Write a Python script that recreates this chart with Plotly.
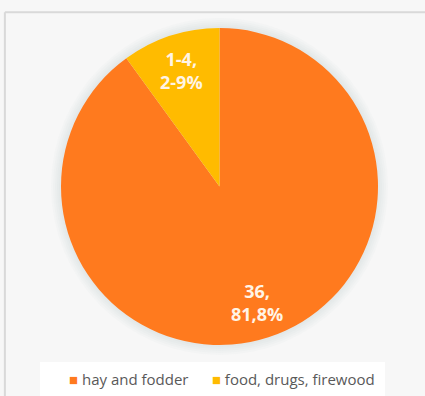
import math
import plotly.graph_objects as go

categories = ["hay and fodder", "food, drugs, firewood"]
values = [36, 4]
label_texts = ["36,<br>81,8%", "1-4,<br>2-9%"]
colors = ["#FF7A1E", "#FFBB00"]

fig = go.Figure(go.Pie(
    labels=categories,
    values=values,
    textinfo="none",
    marker=dict(colors=colors, line=dict(width=0)),
    sort=False,
    direction="clockwise",
    rotation=0,
    hole=0,
    domain=dict(x=[0, 1], y=[0, 1]),
))

# slice labels placed at each slice's mid-angle, derived from the values
total = sum(values)
annotations = []
cum = 0.0
for v, t in zip(values, label_texts):
    mid = (cum + v / 2) / total * 2 * math.pi
    cum += v
    r = 0.385
    annotations.append(dict(
        x=0.5 + r * math.sin(mid), y=0.5 + r * math.cos(mid),
        xref="paper", yref="paper", xanchor="center", yanchor="middle",
        text=t, showarrow=False,
        font=dict(family="Open Sans", size=18, color="#FFF4E6", weight="bold"),
        align="center",
    ))

# legend line built from the category names and colours
legend_text = "      ".join(
    f"<span style='color:{c}'>■</span> {name}" for name, c in zip(categories, colors)
)
annotations.append(dict(
    x=0.508, y=-0.107, xref="paper", yref="paper", xanchor="center", yanchor="middle",
    text=legend_text, showarrow=False,
    font=dict(family="Open Sans", size=15, color="#595959"),
))

# soft glow around the pie (decoration)
shapes = []
for k in (10, 8, 6, 4, 2):
    rr = 0.5 + k / 317
    shapes.append(dict(type="circle", xref="paper", yref="paper", layer="below",
                       x0=0.5 - rr, x1=0.5 + rr, y0=0.5 - rr, y1=0.5 + rr,
                       fillcolor="rgba(170,180,195,0.045)", line=dict(width=0)))
shapes += [
    dict(type="rect", xref="paper", yref="paper", layer="below",
         x0=-0.066, x1=1.022, y0=-0.054, y1=-0.2,
         fillcolor="#FFFFFF", line=dict(width=0)),
    dict(type="line", xref="paper", yref="paper",
         x0=-0.177, x1=1.2, y0=1.05, y1=1.05,
         line=dict(color="#D9D9D9", width=2)),
    dict(type="line", xref="paper", yref="paper",
         x0=-0.177, x1=-0.177, y0=1.05, y1=-0.2,
         line=dict(color="#D9D9D9", width=2)),
]

fig.update_layout(
    width=425, height=396,
    margin=dict(l=61, r=47, t=28, b=51, autoexpand=False),
    paper_bgcolor="#F7F7F7",
    showlegend=False,
    annotations=annotations,
    shapes=shapes,
)

fig.write_html("out.html", config={"displayModeBar": False},
               post_script="document.body.style.margin='0';")
